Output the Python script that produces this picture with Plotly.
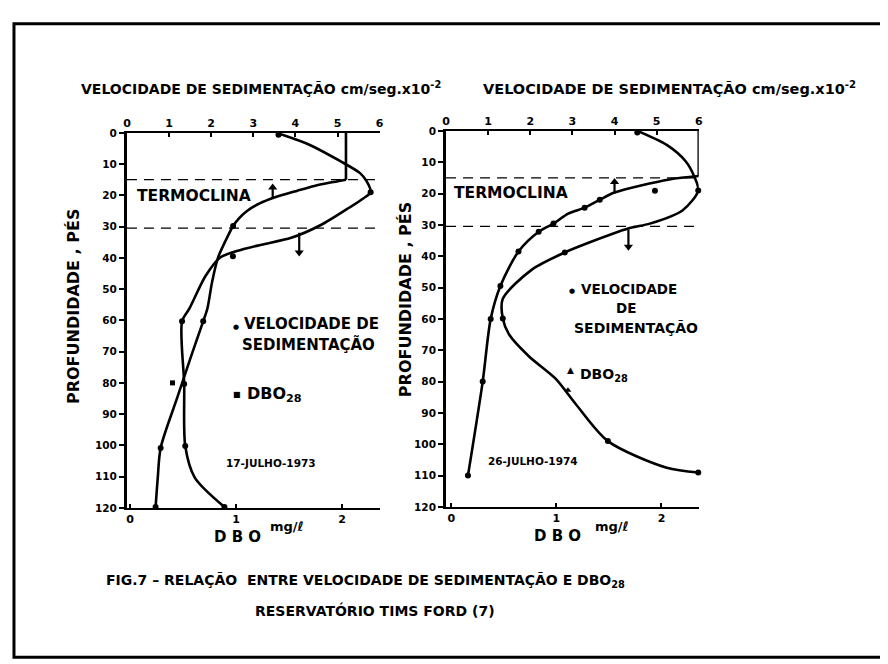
import plotly.graph_objects as go

W, H = 888, 664
FONT = "DejaVu Sans"

# ---------------- tick labels ----------------
VEL_TICKS = [0, 1, 2, 3, 4, 5, 6]
DBO_TICKS = [0, 1, 2]
DEPTH_TICKS = [0, 10, 20, 30, 40, 50, 60, 70, 80, 90, 100, 110, 120]

# ---------------- left panel : 17-JULHO-1973 ----------------
# sedimentation velocity (cm/seg x 10^-2), top axis
L_VEL_DEPTH = [0, 15, 16, 17, 18.5, 20.7, 22.6, 25, 27.5, 29.8, 34, 40, 47.8, 56.2, 60.3, 72, 84.5, 100.8, 110.6, 119.7]
L_VEL = [5.2, 5.2, 4.80, 4.45, 4.05, 3.50, 3.15, 2.85, 2.65, 2.52, 2.36, 2.16, 2.02, 1.91, 1.81, 1.51, 1.20, 0.80, 0.73, 0.68]
L_VEL_PT_DEPTH = [29.8, 60.3, 100.8, 119.7]
L_VEL_PT = [2.52, 1.81, 0.80, 0.68]
# DBO28 (mg/l), bottom axis
L_DBO_DEPTH = [0, 3.5, 9, 12.9, 15.4, 19, 21, 23.9, 29.5, 33.6, 35.8, 37.4, 39.9, 45.9, 56.2, 60.3, 80.4, 100.2, 110.3, 119.7]
L_DBO = [1.38, 1.67, 1.98, 2.17, 2.23, 2.27, 2.20, 2.07, 1.80, 1.52, 1.24, 1.05, 0.85, 0.71, 0.56, 0.49, 0.51, 0.52, 0.61, 0.89]
L_DBO_PT_DEPTH = [0.6, 19, 39.5, 60.3, 80.4, 100.2, 119.7]
L_DBO_PT = [1.40, 2.27, 0.97, 0.49, 0.51, 0.52, 0.89]
L_DBO_EXTRA_DEPTH = [80]
L_DBO_EXTRA = [0.40]
L_THERMO = [15, 30.5]
L_ARROWS = [(3.46, 21.0, 17.5), (4.09, 32.0, 38.3)]   # (velocity, from depth, to depth)

# ---------------- right panel : 26-JULHO-1974 ----------------
R_VEL_DEPTH = [0, 14.4, 15.5, 19.7, 22, 24.5, 26.4, 29.6, 32.2, 38.5, 49.5, 60, 80, 110]
R_VEL = [6.0, 6.0, 5.3, 4.0, 3.65, 3.29, 2.9, 2.55, 2.2, 1.72, 1.29, 1.06, 0.87, 0.52]
R_VEL_PT_DEPTH = [22, 24.5, 29.6, 32.2, 38.5, 49.5, 60, 80, 110]
R_VEL_PT = [3.65, 3.29, 2.55, 2.2, 1.72, 1.29, 1.06, 0.87, 0.52]
R_VEL_EXTRA_DEPTH = [19.1]
R_VEL_EXTRA = [4.96]
R_DBO_DEPTH = [0, 4.5, 9.7, 14.4, 19, 25.4, 29.6, 31.1, 35.8, 38.8, 44.2, 53.6, 59.9, 65, 72, 79, 87, 99, 107.5, 109]
R_DBO = [1.77, 2.05, 2.23, 2.31, 2.35, 2.2, 1.89, 1.69, 1.30, 1.08, 0.77, 0.49, 0.49, 0.55, 0.74, 0.99, 1.18, 1.49, 2.05, 2.35]
R_DBO_PT_DEPTH = [0.5, 19, 38.8, 59.9, 99, 109]
R_DBO_PT = [1.77, 2.35, 1.08, 0.49, 1.49, 2.35]
R_DBO_EXTRA_DEPTH = [82.8]
R_DBO_EXTRA = [1.11]
R_THERMO = [15, 30.5]
R_ARROWS = [(4.0, 20.0, 16.3), (4.33, 31.5, 37.0)]


def px(x):
    return x / W


def py(y):
    return 1 - y / H


fig = go.Figure()


def line(x, y, xa, ya, shape="spline", width=2.6):
    fig.add_trace(go.Scatter(x=x, y=y, xaxis=xa, yaxis=ya, mode="lines",
                             line=dict(color="black", width=width, shape=shape, smoothing=0.8),
                             hoverinfo="skip"))


def marks(x, y, xa, ya, symbol="circle", size=6):
    fig.add_trace(go.Scatter(x=x, y=y, xaxis=xa, yaxis=ya, mode="markers", cliponaxis=False,
                             marker=dict(color="black", size=size, symbol=symbol),
                             hoverinfo="skip"))


def arrow(v, d0, d1, xa, ya):
    line([v, v], [d0, d1], xa, ya, "linear", 2.2)
    marks([v], [d1], xa, ya, "triangle-up" if d1 < d0 else "triangle-down", 8)


# left panel
line(L_VEL[:2], L_VEL_DEPTH[:2], "x2", "y", "linear")
line(L_VEL[1:], L_VEL_DEPTH[1:], "x2", "y")
marks(L_VEL_PT, L_VEL_PT_DEPTH, "x2", "y")
line(L_DBO, L_DBO_DEPTH, "x", "y")
marks(L_DBO_PT, L_DBO_PT_DEPTH, "x", "y")
marks(L_DBO_EXTRA, L_DBO_EXTRA_DEPTH, "x", "y", "square", 5)
for v, d0, d1 in L_ARROWS:
    arrow(v, d0, d1, "x2", "y")

# right panel
line(R_VEL[:2], R_VEL_DEPTH[:2], "x4", "y2", "linear")
line(R_VEL[1:], R_VEL_DEPTH[1:], "x4", "y2")
marks(R_VEL_PT, R_VEL_PT_DEPTH, "x4", "y2")
marks(R_VEL_EXTRA, R_VEL_EXTRA_DEPTH, "x4", "y2")
line(R_DBO, R_DBO_DEPTH, "x3", "y2")
marks(R_DBO_PT, R_DBO_PT_DEPTH, "x3", "y2")
marks(R_DBO_EXTRA, R_DBO_EXTRA_DEPTH, "x3", "y2", "triangle-up", 6)
for v, d0, d1 in R_ARROWS:
    arrow(v, d0, d1, "x4", "y2")

tickfont = dict(family=FONT, size=11, color="black", weight="bold")
base = dict(showgrid=False, zeroline=False, showline=True, linecolor="black",
            tickcolor="black", tickwidth=1.5, tickfont=tickfont, fixedrange=True)

LX = [px(116), px(371)]
LY = [py(503), py(121)]
RX = [px(438), px(693)]
RY = [py(502), py(119)]

fig.update_layout(
    width=W, height=H, margin=dict(l=0, r=0, t=0, b=0),
    paper_bgcolor="white", plot_bgcolor="rgba(0,0,0,0)", showlegend=False,
    xaxis=dict(base, domain=LX, range=[-0.03, 2.355], anchor="y", side="bottom",
               tickvals=DBO_TICKS, ticks="inside", ticklen=4, linewidth=1.5),
    xaxis2=dict(base, range=[0, 6], anchor="y", overlaying="x", side="top",
                tickvals=VEL_TICKS, ticks="inside", ticklen=4, linewidth=1.5),
    yaxis=dict(base, domain=LY, range=[120, 0], anchor="x", side="left",
               tickvals=DEPTH_TICKS, ticks="outside", ticklen=5, linewidth=3,
               tickfont=dict(tickfont, size=10.5)),
    yaxis3=dict(base, range=[120, 0], anchor="x", overlaying="y", side="right",
                tickvals=DEPTH_TICKS, ticks="inside", ticklen=5, showticklabels=False, linewidth=2),
    xaxis3=dict(base, domain=RX, range=[-0.05, 2.355], anchor="y2", side="bottom",
                tickvals=DBO_TICKS, ticks="inside", ticklen=4, linewidth=1.5),
    xaxis4=dict(base, range=[0, 6], anchor="y2", overlaying="x3", side="top",
                tickvals=VEL_TICKS, ticks="inside", ticklen=4, linewidth=1.5),
    yaxis2=dict(base, domain=RY, range=[120, 0], anchor="x3", side="left",
                tickvals=DEPTH_TICKS, ticks="outside", ticklen=5, linewidth=3,
                tickfont=dict(tickfont, size=10.5)),
    yaxis4=dict(base, range=[120, 0], anchor="x3", overlaying="y2", side="right",
                tickvals=DEPTH_TICKS, ticks="inside", ticklen=5, showticklabels=False, linewidth=2.5),
)

# thermocline dashed lines
for d in L_THERMO:
    fig.add_shape(type="line", xref="x domain", yref="y", x0=0, x1=1, y0=d, y1=d,
                  line=dict(color="black", width=1.3, dash="10px,7px"))
for d in R_THERMO:
    fig.add_shape(type="line", xref="x3 domain", yref="y2", x0=0, x1=1, y0=d, y1=d,
                  line=dict(color="black", width=1.3, dash="10px,7px"))

# frame
fig.add_shape(type="rect", xref="paper", yref="paper", x0=px(2), x1=px(885), y0=py(655), y1=py(10),
              line=dict(color="black", width=3))


def text(t, x, y, size, xanchor="left", angle=0):
    fig.add_annotation(text=t, x=px(x), y=py(y), xref="paper", yref="paper",
                       xanchor=xanchor, yanchor="middle", showarrow=False, textangle=angle,
                       font=dict(family=FONT, size=size, color="black"))


TITLE = "<b>VELOCIDADE DE SEDIMENTAÇÃO cm/seg.x10<sup>-2</sup></b>"
text(TITLE, 68, 75, 14)
text(TITLE, 473, 75, 14.5)

text("<b>TERMOCLINA</b>", 124, 185, 15.5)
text("<b>TERMOCLINA</b>", 444, 182, 15.5)

text("<b>PROFUNDIDADE , PÉS</b>", 62, 298, 16, "center", -90)
text("<b>PROFUNDIDADE , PÉS</b>", 397, 291, 16, "center", -90)

# left legend
text("●", 226, 319, 7, "center")
text("<b>VELOCIDADE DE</b>", 232, 316, 15)
text("<b>SEDIMENTAÇÃO</b>", 368, 337, 15, "right")
text("■", 227, 387, 8, "center")
text("<b>DBO<sub>28</sub></b>", 235, 387, 16)
text("<b>17-JULHO-1973</b>", 214, 457, 10.5)

# right legend
text("●", 565, 282, 7, "center")
text("<b>VELOCIDADE</b>", 572, 280, 13.5)
text("<b>DE</b>", 620, 299, 13.5, "center")
text("<b>SEDIMENTAÇÃO</b>", 694, 320, 14, "right")
text("▲", 564, 363, 9, "center")
text("<b>DBO<sub>28</sub></b>", 571, 368, 14)
text("<b>26-JULHO-1974</b>", 478, 455, 10.5)

# DBO axis labels
text("<b>D B O</b>", 228, 533, 15, "center")
text("<b>mg/ℓ</b>", 278, 522, 13, "center")
text("<b>D B O</b>", 550, 532, 15, "center")
text("<b>mg/ℓ</b>", 605, 522, 13, "center")

# caption
text("<b>FIG.7 – RELAÇÃO  ENTRE VELOCIDADE DE SEDIMENTAÇÃO E DBO<sub>28</sub></b>", 93, 577, 14)
text("<b>RESERVATÓRIO TIMS FORD (7)</b>", 243, 607, 14)

fig.write_html("out.html")
